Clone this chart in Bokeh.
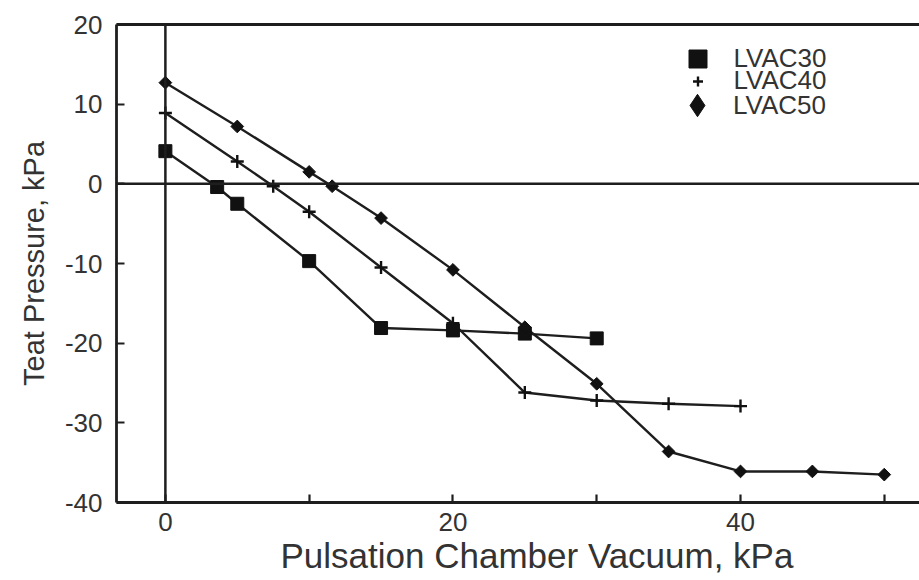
import math
from bokeh.plotting import figure
from bokeh.models import (Range1d, SingleIntervalTicker, LinearAxis, FixedTicker,
                          Legend, LegendItem, Span, Title)
from bokeh.embed import file_html
from bokeh.resources import INLINE

# ---- data ----
x30 = [0, 3.6, 5, 10, 15, 20, 25, 30]
y30 = [4.1, -0.4, -2.5, -9.7, -18.1, -18.4, -18.8, -19.4]

x40 = [0, 5, 7.5, 10, 15, 20, 25, 30, 35, 40]
y40 = [8.9, 2.8, -0.3, -3.5, -10.5, -17.5, -26.2, -27.2, -27.6, -27.9]

x50 = [0, 5, 10, 11.6, 15, 20, 25, 30, 35, 40, 45, 50]
y50 = [12.7, 7.2, 1.5, -0.3, -4.3, -10.8, -18.0, -25.1, -33.6, -36.1, -36.1, -36.5]

series_names = ["LVAC30", "LVAC40", "LVAC50"]
x_tick_labels = {0: "0", 10: "", 20: "20", 30: "", 40: "40", 50: ""}
y_tick_labels = {20: "20", 10: "10", 0: "0", -10: "-10", -20: "-20", -30: "-30", -40: "-40"}
x_title = "Pulsation Chamber Vacuum, kPa"
y_title = "Teat Pressure, kPa"

FONT = "Liberation Sans"
INK = "#1e1e1e"
TXT = "#333333"

p = figure(width=919, height=580, output_backend="svg", toolbar_location=None,
           x_range=Range1d(-3.4, 52.45), y_range=Range1d(-40, 20),
           min_border_left=116, min_border_right=0, min_border_top=24,
           min_border_bottom=78, y_axis_label=y_title)
p.outline_line_color = None
p.grid.visible = False
p.background_fill_color = "white"
p.border_fill_color = "white"

for ax in (p.xaxis[0], p.yaxis[0]):
    ax.ticker = SingleIntervalTicker(interval=10, num_minor_ticks=0)
    ax.axis_line_width = 2.8
    ax.axis_line_color = INK
    ax.major_tick_in = 8
    ax.major_tick_out = 0
    ax.major_tick_line_width = 2.2
    ax.major_tick_line_color = INK
    ax.minor_tick_line_color = None
    ax.major_label_text_font = FONT
    ax.major_label_text_color = TXT
    ax.major_label_text_font_size = "26px"
    ax.axis_label_text_font = FONT
    ax.axis_label_text_color = TXT
    ax.axis_label_text_font_style = "normal"

p.xaxis[0].major_label_overrides = dict(x_tick_labels)
p.yaxis[0].major_label_overrides = dict(y_tick_labels)
p.xaxis[0].major_label_standoff = 10
p.yaxis[0].major_label_standoff = 14
p.yaxis[0].axis_label_standoff = 12
p.yaxis[0].axis_label_text_font_size = "29px"

# x-axis title (as in the reference, slightly right of the frame centre)
p.add_layout(Title(text=x_title, align="left", offset=164, standoff=0,
                   vertical_align="bottom", text_font=FONT, text_font_size="35px",
                   text_font_style="normal", text_color=TXT), "below")

# top frame line
top = LinearAxis(ticker=FixedTicker(ticks=[]), axis_line_width=2.8, axis_line_color=INK,
                 major_tick_out=0, major_tick_in=0, major_label_text_font_size="0px",
                 minor_tick_line_color=None)
p.add_layout(top, "above")

# zero lines
p.add_layout(Span(location=0, dimension="height", line_color=INK, line_width=2.5))
p.add_layout(Span(location=0, dimension="width", line_color=INK, line_width=2.5))

# lines
for xs, ys in ((x30, y30), (x40, y40), (x50, y50)):
    p.line(xs, ys, line_color=INK, line_width=2.4)

MK = "#111111"
r30 = p.scatter(x30, y30, marker="square", size=13, fill_color=MK, line_color=MK)
r40 = p.scatter(x40, y40, marker="cross", size=13, line_color=MK, line_width=2.4)
r50 = p.scatter(x50, y50, marker="square", size=9, angle=math.pi / 4,
                fill_color=MK, line_color=MK)
# legend symbol for LVAC50 (legend symbols are drawn without rotation)
r50_key = p.scatter(x50, y50, marker="diamond", size=9, fill_color=MK, line_color=MK,
                    visible=False)

# legend: one legend per entry so the symbol sizes differ as in the reference
frame_left, frame_bottom = 116, 502
specs = [(r30, series_names[0], 45, 45, 58),
         (r40, series_names[1], 25, 30, 81),
         (r50_key, series_names[2], 56, 56, 105)]
for r, name, gw, gh, cy in specs:
    leg = Legend(items=[LegendItem(label=name, renderers=[r])],
                 location=(697 - gw / 2 - frame_left, frame_bottom - cy - gh / 2),
                 glyph_width=gw, glyph_height=gh, label_height=10,
                 label_standoff=int(round(36 - gw / 2)), padding=0, spacing=0, margin=0,
                 border_line_color=None, background_fill_alpha=0,
                 inactive_fill_alpha=0,
                 label_text_font=FONT, label_text_font_size="26px", label_text_color=TXT)
    p.add_layout(leg)

open("out.html", "w").write(file_html(p, INLINE))
